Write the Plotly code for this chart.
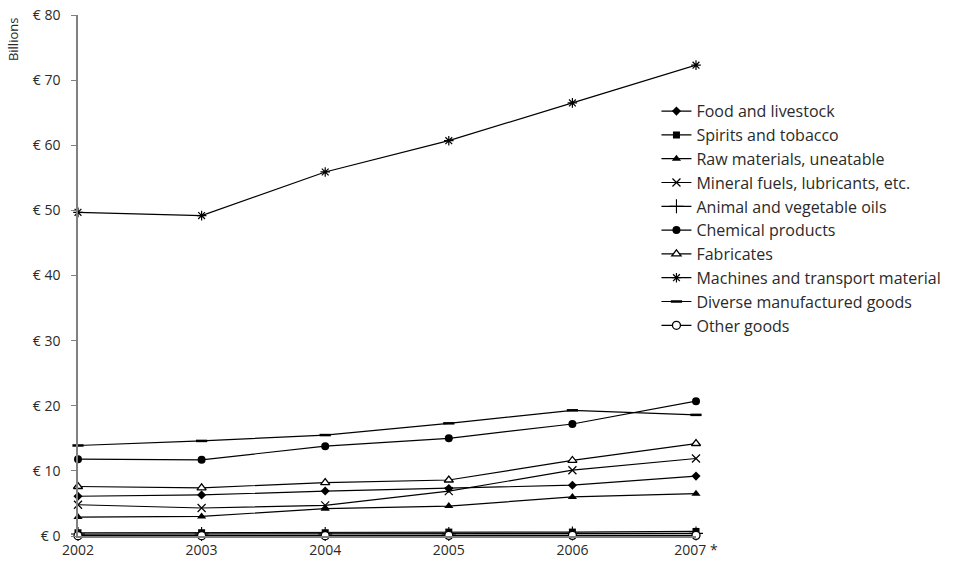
import plotly.graph_objects as go

# Export values by product group, in billions of euros
years = ["2002", "2003", "2004", "2005", "2006", "2007"]
year_labels = ["2002", "2003", "2004", "2005", "2006", "2007 *"]

food = [6.1, 6.3, 6.9, 7.3, 7.8, 9.2]
spirits = [0.5, 0.5, 0.5, 0.6, 0.6, 0.7]
raw = [2.9, 3.0, 4.2, 4.6, 6.0, 6.5]
mineral = [4.8, 4.3, 4.7, 6.9, 10.1, 11.9]
oils = [0.3, 0.3, 0.3, 0.3, 0.4, 0.4]
chemical = [11.8, 11.7, 13.8, 15.0, 17.2, 20.7]
fabricates = [7.6, 7.4, 8.2, 8.6, 11.6, 14.2]
machines = [49.7, 49.2, 55.9, 60.7, 66.5, 72.3]
diverse = [13.9, 14.6, 15.5, 17.3, 19.3, 18.6]
other = [0.05, 0.05, 0.05, 0.1, 0.1, 0.1]

series = [
    ("Food and livestock", food, dict(symbol="diamond", size=7, color="black")),
    ("Spirits and tobacco", spirits, dict(symbol="square", size=7, color="black")),
    ("Raw materials, uneatable", raw, dict(symbol="triangle-up", size=8, color="black")),
    ("Mineral fuels, lubricants, etc.", mineral,
     dict(symbol="x-thin-open", size=8, color="black", line=dict(width=1.2, color="black"))),
    ("Animal and vegetable oils", oils,
     dict(symbol="cross-thin-open", size=10, color="black", line=dict(width=1.1, color="black"))),
    ("Chemical products", chemical, dict(symbol="circle", size=8, color="black")),
    ("Fabricates", fabricates,
     dict(symbol="triangle-up", size=8, color="white", line=dict(width=1.3, color="black"))),
    ("Machines and transport material", machines,
     dict(symbol="asterisk-open", size=8, color="black", line=dict(width=1.2, color="black"))),
    ("Diverse manufactured goods", diverse,
     dict(symbol="line-ew-open", size=8, color="black", line=dict(width=2.5, color="black"))),
    ("Other goods", other,
     dict(symbol="circle", size=8, color="white", line=dict(width=1.3, color="black"))),
]

FONT = "Open Sans, Century Gothic, sans-serif"
TXT = "#2a2a2a"

fig = go.Figure()
for i, (name, vals, marker) in enumerate(series):
    fig.add_trace(go.Scatter(
        x=years, y=vals, name=name, mode="lines+markers",
        line=dict(color="black", width=1.2),
        marker=marker, cliponaxis=False, legendgroup=f"g{i}",
    ))

fig.update_layout(
    width=958, height=570,
    margin=dict(l=78, r=262, t=15, b=34),
    paper_bgcolor="white", plot_bgcolor="white",
    font=dict(family=FONT, size=13, color=TXT),
    showlegend=True,
    legend=dict(
        x=0.936, y=0.848, xanchor="left", yanchor="top",
        traceorder="grouped", tracegroupgap=0,
        font=dict(family=FONT, size=16, color=TXT),
        bgcolor="rgba(0,0,0,0)",
    ),
    xaxis=dict(
        type="category", range=[0, 5], automargin=False,
        tickmode="array", tickvals=years, ticktext=year_labels,
        showgrid=False, zeroline=False,
        showline=True, linecolor="#808080", linewidth=1.5,
        ticks="", tickfont=dict(size=14),
    ),
    yaxis=dict(
        range=[0, 80], dtick=10, tickprefix="€ ", automargin=False,
        showgrid=False, zeroline=False,
        showline=True, linecolor="#808080", linewidth=1.5,
        ticks="outside", ticklen=5, tickcolor="#808080",
        ticklabelstandoff=8,
        tickfont=dict(size=14),
    ),
    annotations=[dict(
        text="Billions", textangle=-90, xref="paper", yref="paper",
        x=-0.105, y=1.0, xanchor="center", yanchor="top", showarrow=False,
        font=dict(family=FONT, size=13, color=TXT),
    )],
)

fig.write_html("out.html")
